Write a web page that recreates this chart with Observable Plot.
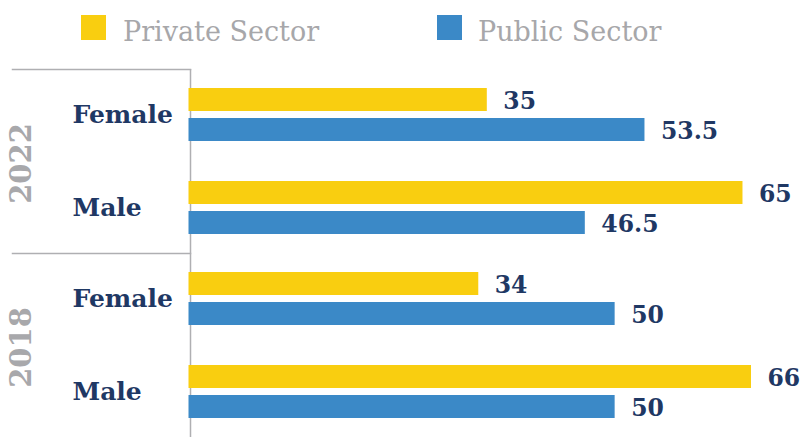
<!DOCTYPE html>
<html>
<head>
<meta charset="utf-8">
<script src="https://cdn.jsdelivr.net/npm/d3@7"></script>
<script src="https://cdn.jsdelivr.net/npm/@observablehq/plot@0.6"></script>
<style>
  html, body { margin: 0; padding: 0; background: #fff; }
  #wrap { width: 803px; height: 437px; position: relative; overflow: hidden; }
  #legend { position: relative; width: 803px; height: 52px; font-family: "DejaVu Serif", serif; }
  .sw { position: absolute; top: 15px; width: 25px; height: 25px; }
  .lb { position: absolute; top: 18px; font-size: 27px; line-height: 27px; color: #A7A7AA; white-space: nowrap; }
</style>
</head>
<body>
<div id="wrap">
  <div id="legend"></div>
  <div id="chart"></div>
</div>
<script>
// Data
const years = ["2022", "2018"];
const sexes = ["Female", "Male"];
// order: 2022 Female, 2022 Male, 2018 Female, 2018 Male
const privateSector = [35, 65, 34, 66];
const publicSector = [53.5, 46.5, 50, 50];
const seriesNames = ["Private Sector", "Public Sector"];
const seriesColors = ["#F9CE10", "#3B89C7"];

const rows = [];
years.forEach((yr, i) => sexes.forEach((sx, j) => {
  const k = i * sexes.length + j;
  rows.push({year: yr, sex: sx, priv: privateSector[k], pub: publicSector[k]});
}));

// Legend (HTML)
const legend = document.getElementById("legend");
const swX = [81, 437], lbX = [123, 478];
seriesNames.forEach((name, i) => {
  const s = document.createElement("div");
  s.className = "sw"; s.style.left = swX[i] + "px"; s.style.background = seriesColors[i];
  legend.appendChild(s);
  const t = document.createElement("div");
  t.className = "lb"; t.style.left = lbX[i] + "px"; t.textContent = name;
  legend.appendChild(t);
});

const navy = "#1F3864";
const gray = "#AFAFB2";
const fmt = v => String(v);

const chart = Plot.plot({
  width: 803,
  height: 385,
  marginTop: 17,
  marginBottom: 0,
  marginLeft: 188.5,
  marginRight: 52,
  style: {fontFamily: "DejaVu Serif, serif", background: "#fff"},
  x: {domain: [0, 66], axis: null},
  y: {domain: sexes, axis: null, paddingInner: 0.43, paddingOuter: 0.204},
  fy: {domain: years, axis: null, padding: 0},
  marks: [
    Plot.ruleX([0], {dx: 1.5, stroke: gray, strokeWidth: 1.5}),
    Plot.frame({anchor: "top", stroke: gray, strokeWidth: 1.5, insetLeft: -176.5, insetRight: 561}),
    Plot.barX(rows, {fy: "year", y: "sex", x: "priv", fill: seriesColors[0], insetBottom: 30}),
    Plot.barX(rows, {fy: "year", y: "sex", x: "pub", fill: seriesColors[1], insetTop: 30}),
    Plot.text(rows, {fy: "year", y: "sex", x: "priv", text: d => fmt(d.priv), textAnchor: "start",
      dx: 16, dy: -14, fill: navy, fontSize: 23.5, fontWeight: "bold", lineAnchor: "middle"}),
    Plot.text(rows, {fy: "year", y: "sex", x: "pub", text: d => fmt(d.pub), textAnchor: "start",
      dx: 16, dy: 16, fill: navy, fontSize: 23.5, fontWeight: "bold", lineAnchor: "middle"}),
    Plot.text(rows, {fy: "year", y: "sex", text: "sex", frameAnchor: "left", textAnchor: "start",
      dx: -116.5, fill: navy, fontSize: 25, fontWeight: "bold", lineAnchor: "middle"}),
    Plot.text(years, {fy: d => d, text: d => d, frameAnchor: "left", rotate: -90, textAnchor: "middle",
      dx: -167, dy: 2, fill: "#A8A8AB", fontSize: 29, fontWeight: "bold", lineAnchor: "middle"})
  ]
});
document.getElementById("chart").appendChild(chart);
</script>
</body>
</html>
